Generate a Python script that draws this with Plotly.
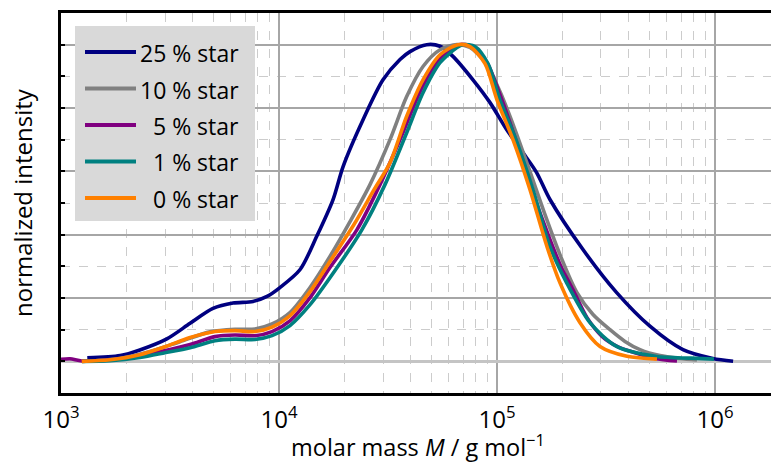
import plotly.graph_objects as go

# Molar-mass distributions (M in g/mol, intensity normalized to the peak)
m_25 = [1320, 1870, 2300, 3060, 3910, 4980, 6150, 7600, 8810, 10100, 12500, 14900, 17700,
        19700, 24300, 30000, 35900, 39900, 47600, 54800, 62800, 77600, 92900, 110700, 131500,
        152000, 175000, 248000, 354000, 503000, 713000, 978000, 1211000]
i_25 = [0.011, 0.018, 0.036, 0.071, 0.120, 0.167, 0.184, 0.189, 0.205, 0.233, 0.290, 0.395, 0.511,
        0.616, 0.763, 0.889, 0.953, 0.978, 1.000, 0.995, 0.963, 0.889, 0.817, 0.732, 0.659,
        0.596, 0.511, 0.353, 0.217, 0.111, 0.037, 0.009, 0.0]

m_10 = [1250, 1865, 2560, 3515, 4830, 6280, 7760, 9290, 11230, 13880, 17130, 21170, 26150,
        32300, 38530, 45780, 54780, 65550, 75170, 88100, 103200, 120900, 141700, 166100,
        194500, 232800, 275700, 329900, 386500, 452900, 559400, 690900, 826600]
i_10 = [0.0, 0.009, 0.031, 0.062, 0.093, 0.101, 0.102, 0.118, 0.154, 0.233, 0.331, 0.441, 0.558,
        0.700, 0.836, 0.931, 0.984, 1.000, 0.991, 0.946, 0.852, 0.732, 0.599, 0.463,
        0.337, 0.217, 0.148, 0.100, 0.063, 0.037, 0.018, 0.009, 0.004]

m_5 = [1000, 1100, 1245, 1680, 2300, 3000, 3910, 5090, 6280, 7760, 9290, 11230, 13880, 17130,
       22800, 29060, 35890, 45780, 54780, 66940, 76780, 89970, 103200, 120900, 141700, 175100,
       196700, 223200, 258800, 303200, 358900, 429600, 530700, 669500]
i_5 = [0.006, 0.008, 0.001, 0.004, 0.015, 0.034, 0.053, 0.078, 0.083, 0.081, 0.094, 0.128, 0.201, 0.296,
       0.416, 0.558, 0.700, 0.871, 0.956, 1.000, 0.994, 0.943, 0.842, 0.707, 0.558, 0.384,
       0.299, 0.226, 0.138, 0.079, 0.046, 0.027, 0.009, 0.001]

m_1 = [1250, 1680, 2300, 3000, 3910, 5090, 6280, 7760, 9290, 11230, 13880, 17130, 24030, 30630,
       38530, 45780, 54780, 65550, 69830, 79270, 90920, 103200, 122200, 146300, 175100, 208800,
       267100, 354100, 540300, 776200, 989500]
i_1 = [0.0, 0.002, 0.012, 0.027, 0.043, 0.065, 0.070, 0.069, 0.081, 0.113, 0.179, 0.264, 0.416, 0.558,
       0.722, 0.848, 0.943, 0.991, 1.000, 0.994, 0.940, 0.826, 0.700, 0.542, 0.362, 0.248,
       0.122, 0.047, 0.015, 0.010, 0.007]

m_0 = [1245, 1680, 2300, 3000, 3910, 5090, 6280, 7760, 9290, 11230, 13880, 17130, 22080, 27290,
       32300, 38530, 45780, 54780, 66240, 75170, 88100, 100000, 118400, 141700, 169600, 194500,
       240400, 296900, 394800, 542000]
i_0 = [0.0, 0.005, 0.021, 0.046, 0.075, 0.094, 0.097, 0.094, 0.108, 0.144, 0.220, 0.315, 0.432, 0.542,
       0.627, 0.774, 0.889, 0.968, 1.000, 0.994, 0.940, 0.826, 0.700, 0.542, 0.362, 0.248,
       0.122, 0.047, 0.016, 0.007]

labels = ["25 % star", "10 % star", "5 % star", "1 % star", "0 % star"]
colors = ["#000080", "#808080", "#800080", "#008080", "#ff8000"]
series = [(m_25, i_25), (m_10, i_10), (m_5, i_5), (m_1, i_1), (m_0, i_0)]

x_major = [1e3, 1e4, 1e5, 1e6]
x_major_text = ["10<sup>3</sup>", "10<sup>4</sup>", "10<sup>5</sup>", "10<sup>6</sup>"]
x_minor = [k * 10 ** e for e in (3, 4, 5) for k in range(2, 10)]

x_title = "molar mass <i>M</i> / g mol<sup>\u22121</sup>"
y_title = "normalized intensity"

FONT = "Open Sans"
W, H = 771, 463
ML, MR, MT, MB = 61, 0, 13, 70

fig = go.Figure()
for (mx, iy), name, col in zip(series, labels, colors):
    fig.add_trace(go.Scatter(
        x=mx, y=iy, mode="lines", name=name, showlegend=False,
        line=dict(color=col, width=3.6, shape="spline", smoothing=0.8),
    ))

# Helpers mapping figure pixels onto paper coordinates of the plot area
pw, ph = W - ML - MR, H - MT - MB


def fx(px):
    return (px - ML) / pw


def fy(py):
    return (H - MB - py) / ph


# Legend panel
shapes = [dict(type="rect", xref="paper", yref="paper",
               x0=fx(75), x1=fx(255), y0=fy(221), y1=fy(26),
               fillcolor="#d9d9d9", line=dict(width=0), layer="above")]
annotations = []
row_y = [52, 88.5, 125, 161.5, 198]
for name, col, ry in zip(labels, colors, row_y):
    shapes.append(dict(type="line", xref="paper", yref="paper",
                       x0=fx(85), x1=fx(136), y0=fy(ry), y1=fy(ry),
                       line=dict(color=col, width=3.8), layer="above"))
    annotations.append(dict(xref="paper", yref="paper", x=fx(241), y=fy(ry + 1),
                            text=name, showarrow=False, xanchor="right", yanchor="middle",
                            font=dict(family=FONT, size=23, color="black")))

# Axis titles
annotations.append(dict(xref="paper", yref="paper", x=fx(418), y=fy(446),
                        text=x_title, showarrow=False, xanchor="center", yanchor="middle",
                        font=dict(family=FONT, size=23.5, color="black")))
annotations.append(dict(xref="paper", yref="paper", x=fx(22), y=fy(203),
                        text=y_title, showarrow=False, xanchor="center", yanchor="middle",
                        textangle=-90, font=dict(family=FONT, size=24, color="black")))

fig.update_layout(
    width=W, height=H,
    margin=dict(l=ML, r=MR, t=MT, b=MB),
    paper_bgcolor="white", plot_bgcolor="white",
    font=dict(family=FONT, color="black"),
    shapes=shapes, annotations=annotations,
    xaxis=dict(
        type="log", range=[3, 6.257], automargin=False,
        showline=True, linecolor="black", linewidth=3, mirror=True,
        tickmode="array", tickvals=x_major, ticktext=x_major_text,
        ticks="", tickfont=dict(size=24, family=FONT), ticklabelstandoff=3,
        showgrid=True, gridcolor="#a6a6a6", gridwidth=1.5,
        minor=dict(tickmode="array", tickvals=x_minor, showgrid=True,
                   gridcolor="#cccccc", gridwidth=1, griddash="dash", ticks=""),
        zeroline=False,
    ),
    yaxis=dict(
        range=[-0.1, 1.1], tick0=0, dtick=0.2, automargin=False,
        showticklabels=False,
        ticks="inside", ticklen=4, tickwidth=2, tickcolor="black",
        showline=True, linecolor="black", linewidth=3,
        showgrid=True, gridcolor="#a6a6a6", gridwidth=1.5,
        zeroline=True, zerolinecolor="#c4c4c4", zerolinewidth=2.5,
        minor=dict(dtick=0.1, ticks="inside", ticklen=4, tickwidth=2, tickcolor="black",
                   showgrid=True, gridcolor="#cccccc", gridwidth=1, griddash="dash"),
    ),
)

fig.write_html("out.html")
